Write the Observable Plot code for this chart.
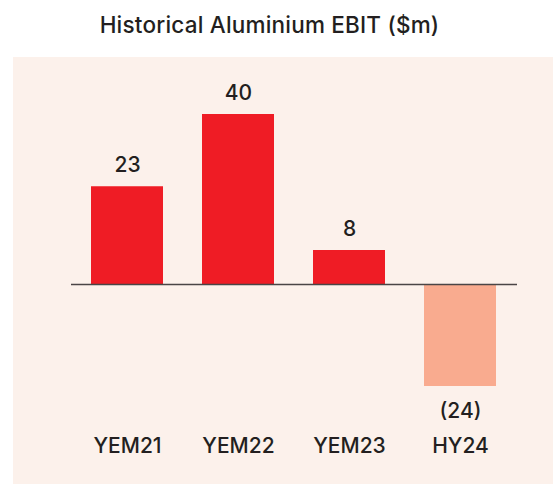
<!DOCTYPE html>
<html>
<head>
<meta charset="utf-8">
<script src="https://cdn.jsdelivr.net/npm/d3@7"></script>
<script src="https://cdn.jsdelivr.net/npm/@observablehq/plot@0.6"></script>
<style>
  html, body { margin: 0; padding: 0; background: #ffffff; }
  body { width: 553px; height: 484px; overflow: hidden; font-family: Inter, "Noto Sans", sans-serif; }
  #title { width: 539px; height: 43px; padding-top: 14px; text-align: center; font-size: 22.5px; line-height: 22px; font-weight: 500; color: #231f20; letter-spacing: 0.2px; }
  #chart { margin-left: 13px; width: 540px; height: 427px; background: #fcf1eb; }
  #chart svg { display: block; }
</style>
</head>
<body>
<div id="title">Historical Aluminium EBIT ($m)</div>
<div id="chart"></div>
<script>
const categories = ["YEM21", "YEM22", "YEM23", "HY24"];
const values = [23, 40, 8, -24];
const valueLabels = ["23", "40", "8", "(24)"];

const data = categories.map((c, i) => ({cat: c, value: values[i], label: valueLabels[i]}));
const pos = data.filter(d => d.value >= 0);
const neg = data.filter(d => d.value < 0);

const textStyle = {fontSize: 21, fontWeight: 500, fill: "#231f20", letterSpacing: "0.3px"};

const plot = Plot.plot({
  width: 540,
  height: 427,
  marginLeft: 58,
  marginRight: 36,
  marginTop: 20,
  marginBottom: 46,
  style: {background: "transparent", fontFamily: "Inter, 'Noto Sans', sans-serif", color: "#231f20"},
  x: {domain: categories, paddingInner: 0.35, paddingOuter: 0.175, label: null},
  y: {domain: [-24, 40], range: [329, 57], axis: null},
  marks: [
    Plot.barY(data, {x: "cat", y: "value", fill: d => d.value < 0 ? "#f9ab8f" : "#ef1c25"}),
    Plot.ruleY([0], {stroke: "#4a4546", strokeWidth: 1.5}),
    Plot.text(pos, {x: "cat", y: "value", text: "label", lineAnchor: "bottom", dy: -15, ...textStyle}),
    Plot.text(neg, {x: "cat", y: "value", text: "label", lineAnchor: "bottom", dy: 31, ...textStyle}),
    Plot.axisX({tickSize: 0, tickPadding: 0, fontSize: 21, fontWeight: 500, fill: "#231f20", label: null})
  ]
});
document.getElementById("chart").appendChild(plot);
</script>
</body>
</html>
